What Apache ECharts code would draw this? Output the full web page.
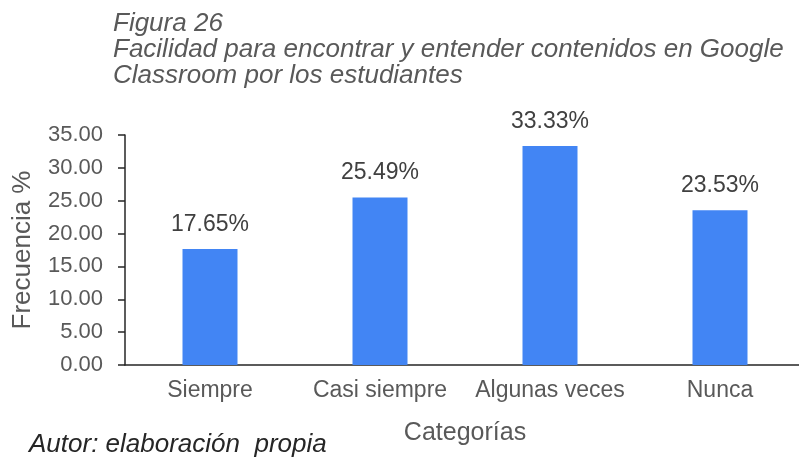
<!DOCTYPE html>
<html>
<head>
<meta charset="utf-8">
<script src="https://cdn.jsdelivr.net/npm/echarts@6/dist/echarts.min.js"></script>
<style>
  html, body { margin: 0; padding: 0; background: #ffffff; }
  #chart { width: 799px; height: 457px; }
</style>
</head>
<body>
<div id="chart"></div>
<script>
  // datos de la figura
  const categorias = ['Siempre', 'Casi siempre', 'Algunas veces', 'Nunca'];
  const frecuencias = [17.65, 25.49, 33.33, 23.53];

  const myChart = echarts.init(document.getElementById('chart'));
  const fuente = '"Liberation Sans", Arial, sans-serif';

  const option = {
    animation: false,
    title: {
      text: 'Figura 26\nFacilidad para encontrar y entender contenidos en Google\nClassroom por los estudiantes',
      left: 108,
      top: 6,
      textStyle: {
        fontFamily: fuente,
        fontStyle: 'italic',
        fontWeight: 'normal',
        fontSize: 26,
        lineHeight: 26,
        color: '#595959'
      }
    },
    graphic: [
      {
        type: 'text',
        left: 29,
        top: 432,
        style: {
          text: 'Autor: elaboración  propia',
          font: 'italic 26px "Liberation Sans", Arial, sans-serif',
          fill: '#262626'
        }
      }
    ],
    grid: {
      left: 125,
      top: 135,
      width: 680,
      height: 230,
      outerBoundsMode: 'none'
    },
    xAxis: {
      type: 'category',
      data: categorias,
      name: 'Categorías',
      nameLocation: 'middle',
      nameGap: 56,
      nameTextStyle: { fontFamily: fuente, fontSize: 25, color: '#595959' },
      axisLine: { lineStyle: { color: '#262626', width: 1.5 } },
      axisTick: { show: false },
      axisLabel: {
        interval: 0,
        hideOverlap: false,
        fontFamily: fuente,
        fontSize: 23,
        color: '#595959',
        margin: 14
      }
    },
    yAxis: {
      type: 'value',
      min: 0,
      max: 35,
      interval: 5,
      name: 'Frecuencia %',
      nameLocation: 'middle',
      nameGap: 89,
      nameTextStyle: { fontFamily: fuente, fontSize: 26, color: '#595959' },
      axisLine: { show: true, lineStyle: { color: '#262626', width: 1.5 } },
      axisTick: { show: true, length: 7, lineStyle: { color: '#262626', width: 1.5 } },
      splitLine: { show: false },
      axisLabel: {
        fontFamily: fuente,
        fontSize: 22,
        color: '#595959',
        margin: 22,
        formatter: function (v) { return v.toFixed(2); }
      }
    },
    series: [
      {
        type: 'bar',
        data: frecuencias,
        barWidth: 55,
        itemStyle: { color: '#4285f4' },
        label: {
          show: true,
          position: 'top',
          distance: 13,
          fontFamily: fuente,
          fontSize: 23,
          color: '#404040',
          formatter: function (p) { return p.value.toFixed(2) + '%'; }
        }
      }
    ]
  };

  myChart.setOption(option);
  window.addEventListener('resize', function () { myChart.resize(); });
</script>
</body>
</html>
